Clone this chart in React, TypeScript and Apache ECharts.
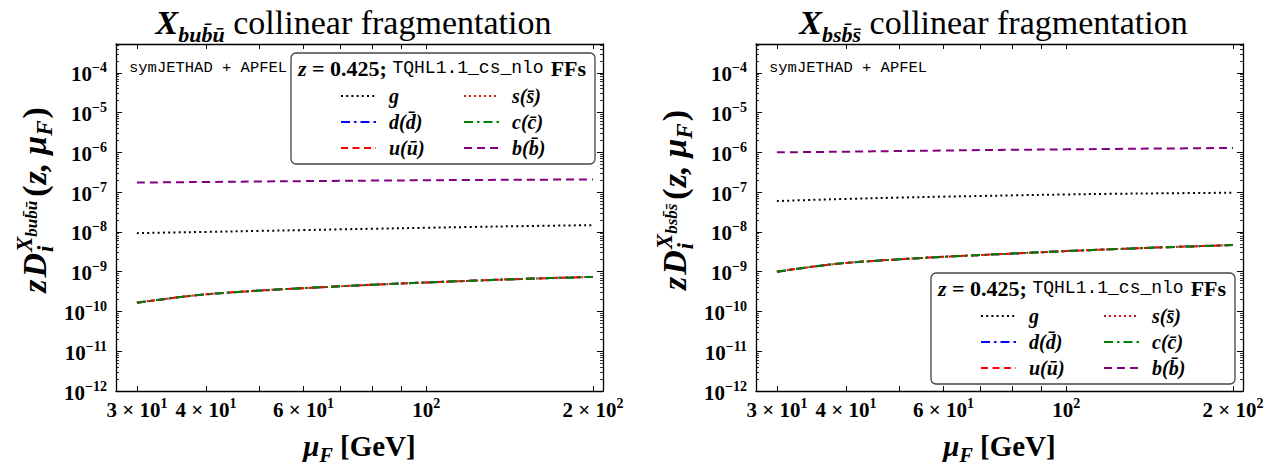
import React, { useEffect, useRef } from "react";
import * as echarts from "echarts";

// ---------------- data ----------------
const muF = [30, 35, 40, 50, 60, 70, 80, 100, 120, 150, 200];

// Left panel: X_{b u b̄ ū}
const buGluon = [9.3e-9, 9.7e-9, 1.0e-8, 1.06e-8, 1.11e-8, 1.16e-8, 1.2e-8, 1.27e-8, 1.33e-8, 1.4e-8, 1.48e-8];
const buDown = [1.66e-10, 2.2e-10, 2.7e-10, 3.35e-10, 3.85e-10, 4.3e-10, 4.7e-10, 5.35e-10, 5.9e-10, 6.6e-10, 7.4e-10];
const buUp = [1.66e-10, 2.2e-10, 2.7e-10, 3.35e-10, 3.85e-10, 4.3e-10, 4.7e-10, 5.35e-10, 5.9e-10, 6.6e-10, 7.4e-10];
const buStrange = [1.66e-10, 2.2e-10, 2.7e-10, 3.35e-10, 3.85e-10, 4.3e-10, 4.7e-10, 5.35e-10, 5.9e-10, 6.6e-10, 7.4e-10];
const buCharm = [1.66e-10, 2.2e-10, 2.7e-10, 3.35e-10, 3.85e-10, 4.3e-10, 4.7e-10, 5.35e-10, 5.9e-10, 6.6e-10, 7.4e-10];
const buBottom = [1.74e-7, 1.77e-7, 1.8e-7, 1.85e-7, 1.89e-7, 1.92e-7, 1.95e-7, 1.99e-7, 2.02e-7, 2.05e-7, 2.08e-7];

// Right panel: X_{b s b̄ s̄}
const bsGluon = [5.96e-8, 6.4e-8, 6.75e-8, 7.3e-8, 7.7e-8, 8.0e-8, 8.3e-8, 8.75e-8, 9.05e-8, 9.35e-8, 9.66e-8];
const bsDown = [1.0e-9, 1.35e-9, 1.66e-9, 2.05e-9, 2.37e-9, 2.62e-9, 2.85e-9, 3.3e-9, 3.65e-9, 4.1e-9, 4.68e-9];
const bsUp = [1.0e-9, 1.35e-9, 1.66e-9, 2.05e-9, 2.37e-9, 2.62e-9, 2.85e-9, 3.3e-9, 3.65e-9, 4.1e-9, 4.68e-9];
const bsStrange = [1.0e-9, 1.35e-9, 1.66e-9, 2.05e-9, 2.37e-9, 2.62e-9, 2.85e-9, 3.3e-9, 3.65e-9, 4.1e-9, 4.68e-9];
const bsCharm = [1.0e-9, 1.35e-9, 1.66e-9, 2.05e-9, 2.37e-9, 2.62e-9, 2.85e-9, 3.3e-9, 3.65e-9, 4.1e-9, 4.68e-9];
const bsBottom = [1.0e-6, 1.02e-6, 1.04e-6, 1.08e-6, 1.11e-6, 1.14e-6, 1.16e-6, 1.19e-6, 1.22e-6, 1.25e-6, 1.29e-6];

// axis ticks
const xTickLabels = [30, 40, 60, 100, 200];
const xTickMarks = [30, 40, 50, 60, 70, 80, 90, 100, 200];
const yTickLabels = [1e-12, 1e-11, 1e-10, 1e-9, 1e-8, 1e-7, 1e-6, 1e-5, 1e-4];

const X_MIN = 27.5;
const X_MAX = 208.5;
const Y_MIN = 1e-12;
const Y_MAX = 5.3e-4;

const yMinorTicks: number[] = [];
for (let e = -12; e <= -4; e++) {
  for (let k = 2; k <= 9; k++) {
    const v = k * Math.pow(10, e);
    if (v < Y_MAX) yMinorTicks.push(v);
  }
}

const names = {
  g: "g",
  d: "d(d\u0304)",
  u: "u(\u016B)",
  s: "s(s\u0304)",
  c: "c(c\u0304)",
  b: "b(b\u0304)",
};

const SERIF = "Liberation Serif";
const MONO = "Liberation Mono";

const lineStyles: Record<string, any> = {
  g: { color: "#000000", type: [2, 3.2], width: 2 },
  d: { color: "#0000ff", type: [9, 4, 2.5, 4], width: 2 },
  u: { color: "#ff0000", type: [7, 4.5], width: 2 },
  s: { color: "#cc1a1a", type: [2, 3], width: 2 },
  c: { color: "#008000", type: [9, 4, 2.5, 4], width: 2 },
  b: { color: "#800080", type: [8, 5], width: 2 },
};

const panels = [
  {
    left: 116,
    sub: "bub\u0304\u016B",
    data: { g: buGluon, d: buDown, u: buUp, s: buStrange, c: buCharm, b: buBottom },
    box: { x: 291, y: 53 },
  },
  {
    left: 756,
    sub: "bsb\u0304s\u0304",
    data: { g: bsGluon, d: bsDown, u: bsUp, s: bsStrange, c: bsCharm, b: bsBottom },
    box: { x: 931, y: 273 },
  },
];

const GRID_TOP = 44;
const GRID_W = 487;
const GRID_H = 349;
const BOX_W = 304;
const BOX_H = 111;

// ---------------- helpers ----------------
const minus = (n: number) => String(n).replace("-", "\u2212");

function xLabel(v: number) {
  const e = Math.floor(Math.log10(v) + 1e-9);
  const m = Math.round(v / Math.pow(10, e));
  return m === 1 ? `{n|10}{s|${e}}` : `{n|${m} \u00D7 10}{s|${e}}`;
}
function yLabel(v: number) {
  const e = Math.round(Math.log10(v));
  return `{n|10}{s|${minus(e)}}`;
}

const tickRich = {
  n: { fontFamily: SERIF, fontWeight: "bold", fontSize: 21, color: "#000", lineHeight: 24, verticalAlign: "bottom" },
  s: { fontFamily: SERIF, fontWeight: "bold", fontSize: 14, color: "#000", lineHeight: 13, verticalAlign: "top" },
};

let measureCtx: CanvasRenderingContext2D | null = null;
function measure(text: string, size: number, italic: boolean, bold: boolean) {
  if (!measureCtx) measureCtx = document.createElement("canvas").getContext("2d");
  measureCtx!.font = `${italic ? "italic " : ""}${bold ? "bold " : ""}${size}px "${SERIF}"`;
  return measureCtx!.measureText(text).width;
}

function txt(text: string, x: number, baseline: number, size: number, italic: boolean, bold = true) {
  return {
    type: "text",
    x,
    y: baseline - 0.33 * size,
    style: {
      text,
      fontFamily: SERIF,
      fontSize: size,
      fontStyle: italic ? "italic" : "normal",
      fontWeight: bold ? "bold" : "normal",
      fill: "#000",
      align: "left",
      verticalAlign: "middle",
    },
  };
}

// y-axis name: z D_i^{X_sub}(z, μ_F), rotated
function yName(cx: number, cy: number, sub: string) {
  const big = 34;
  const mid = 23;
  const small = 17;
  const parts: any[] = [];
  let x = 0;
  parts.push(txt("z", x, 0, big, true));
  x += measure("z", big, true, true) + 2;
  parts.push(txt("D", x, 0, big, true));
  x += measure("D", big, true, true);
  const x0 = x + 1;
  parts.push(txt("i", x0, 7, mid, true));
  parts.push(txt("X", x0, -14, mid, true));
  const wX = measure("X", mid, true, true);
  parts.push(txt(sub, x0 + wX, -9, small, true));
  const wSub = measure(sub, small, true, true);
  x = Math.max(x0 + measure("i", mid, true, true), x0 + wX + wSub) + 4;
  parts.push(txt("(", x, 0, big, false));
  x += measure("(", big, false, true) + 1;
  parts.push(txt("z,", x, 0, big, true));
  x += measure("z,", big, true, true) + 8;
  parts.push(txt("\u03BC", x, 0, big, true));
  x += measure("\u03BC", big, true, true);
  parts.push(txt("F", x, 6, mid, true));
  x += measure("F", mid, true, true) + 2;
  parts.push(txt(")", x, 0, big, false));
  x += measure(")", big, false, true);
  const total = x;
  parts.forEach((p) => (p.x -= total / 2));
  return { type: "group", x: cx, y: cy, rotation: Math.PI / 2, children: parts, silent: true };
}

function buildOption() {
  const grid: any[] = [];
  const xAxis: any[] = [];
  const yAxis: any[] = [];
  const series: any[] = [];
  const legend: any[] = [];
  const title: any[] = [];
  const graphic: any[] = [];

  const axisLine = { show: true, onZero: false, lineStyle: { color: "#000", width: 1.3 } };
  const tickLine = { color: "#000", width: 1 };

  panels.forEach((p, pi) => {
    grid.push({ left: p.left, top: GRID_TOP, width: GRID_W, height: GRID_H });
    const cx = p.left + GRID_W / 2;

    xAxis.push({
      type: "log",
      logBase: 10,
      gridIndex: pi,
      position: "bottom",
      min: X_MIN,
      max: X_MAX,
      axisLine,
      axisTick: { show: true, inside: true, length: 5, customValues: xTickMarks, lineStyle: tickLine },
      minorTick: { show: false },
      splitLine: { show: false },
      axisLabel: {
        show: true,
        customValues: xTickLabels,
        formatter: xLabel,
        rich: tickRich,
        margin: 5,
      },
      name: `{m|\u03BC}{f|F}{r| [GeV]}`,
      nameLocation: "middle",
      nameGap: 40,
      nameTextStyle: {
        rich: {
          m: { fontFamily: SERIF, fontStyle: "italic", fontWeight: "bold", fontSize: 29, color: "#000", lineHeight: 34, verticalAlign: "top" },
          f: { fontFamily: SERIF, fontStyle: "italic", fontWeight: "bold", fontSize: 20, color: "#000", lineHeight: 22, verticalAlign: "bottom" },
          r: { fontFamily: SERIF, fontWeight: "bold", fontSize: 29, color: "#000", lineHeight: 34, verticalAlign: "top" },
        },
      },
    });
    xAxis.push({
      type: "log",
      logBase: 10,
      gridIndex: pi,
      position: "top",
      min: X_MIN,
      max: X_MAX,
      axisLine,
      axisTick: { show: true, inside: true, length: 5, customValues: xTickMarks, lineStyle: tickLine },
      axisLabel: { show: false },
      splitLine: { show: false },
    });

    const yBase = {
      type: "log",
      logBase: 10,
      gridIndex: pi,
      min: Y_MIN,
      max: Y_MAX,
      splitLine: { show: false },
    };
    yAxis.push({
      ...yBase,
      position: "left",
      axisLine,
      axisTick: { show: true, inside: true, length: 6, customValues: yTickLabels, lineStyle: tickLine },
      axisLabel: { show: true, customValues: yTickLabels, formatter: yLabel, rich: tickRich, margin: 9 },
    });
    yAxis.push({
      ...yBase,
      position: "left",
      axisLine: { show: false },
      axisTick: { show: true, inside: true, length: 3, customValues: yMinorTicks, lineStyle: { color: "#000", width: 0.8 } },
      axisLabel: { show: false },
    });
    yAxis.push({
      ...yBase,
      position: "right",
      axisLine,
      axisTick: { show: true, inside: true, length: 6, customValues: yTickLabels, lineStyle: tickLine },
      axisLabel: { show: false },
    });
    yAxis.push({
      ...yBase,
      position: "right",
      axisLine: { show: false },
      axisTick: { show: true, inside: true, length: 3, customValues: yMinorTicks, lineStyle: { color: "#000", width: 0.8 } },
      axisLabel: { show: false },
    });

    (["b", "g", "d", "s", "u", "c"] as const).forEach((k) => {
      const arr = (p.data as any)[k] as number[];
      series.push({
        type: "line",
        name: (names as any)[k],
        xAxisIndex: pi * 2,
        yAxisIndex: pi * 4,
        data: muF.map((m, i) => [m, arr[i]]),
        symbol: "none",
        smooth: 0.35,
        silent: true,
        lineStyle: lineStyles[k],
      });
    });

    title.push({
      text: `{X|X}{s|${p.sub}}{r| collinear fragmentation}`,
      left: cx - 11,
      top: 0,
      textAlign: "center",
      textStyle: {
        rich: {
          X: { fontFamily: SERIF, fontStyle: "italic", fontWeight: "bold", fontSize: 34, color: "#000", lineHeight: 40, verticalAlign: "top" },
          s: { fontFamily: SERIF, fontStyle: "italic", fontWeight: "bold", fontSize: 22, color: "#000", lineHeight: 24, verticalAlign: "bottom" },
          r: { fontFamily: SERIF, fontWeight: "normal", fontSize: 34, color: "#000", lineHeight: 40, verticalAlign: "top" },
        },
      },
    });

    const bx = p.box.x;
    const by = p.box.y;
    graphic.push({
      type: "rect",
      shape: { x: bx, y: by, width: BOX_W, height: BOX_H, r: 5 },
      style: { fill: "#ffffff", stroke: "#444", lineWidth: 1.3 },
      z: 3,
      silent: true,
    });
    graphic.push({
      type: "text",
      x: bx + 7,
      y: by + 15,
      z: 5,
      silent: true,
      style: {
        text: "{z|z}{b| = 0.425; }{t|TQHL1.1_cs_nlo}{f|FFs}",
        verticalAlign: "middle",
        align: "left",
        rich: {
          z: { fontFamily: SERIF, fontStyle: "italic", fontWeight: "bold", fontSize: 22, fill: "#000" },
          b: { fontFamily: SERIF, fontWeight: "bold", fontSize: 22, fill: "#000" },
          f: { fontFamily: SERIF, fontWeight: "bold", fontSize: 22, fill: "#000", padding: [0, 0, 0, 7] },
          t: { fontFamily: MONO, fontSize: 18, fill: "#000" },
        },
      },
    });
    graphic.push({
      type: "text",
      x: p.left + 13,
      y: 68,
      silent: true,
      style: { text: "symJETHAD + APFEL", fontFamily: MONO, fontSize: 15.5, fill: "#000", verticalAlign: "middle", align: "left" },
    });
    graphic.push(yName(p.left - 70, 200, p.sub));

    const legendCommon = {
      orient: "vertical",
      itemWidth: 35,
      itemHeight: 14,
      itemGap: 6,
      padding: 0,
      selectedMode: false,
      z: 6,
      itemStyle: { color: "rgba(0,0,0,0)", borderWidth: 0, opacity: 0 },
      formatter: (n: string) => `{t|${n}}`,
      textStyle: {
        lineHeight: 14,
        rich: {
          t: { fontFamily: SERIF, fontStyle: "italic", fontWeight: "bold", fontSize: 20, color: "#000", lineHeight: 14, padding: [0, 0, 0, 8] },
        },
      },
    };
    legend.push({ ...legendCommon, left: bx + 49, top: by + 33, data: [names.g, names.d, names.u] });
    legend.push({ ...legendCommon, left: bx + 172, top: by + 33, data: [names.s, names.c, names.b] });
  });

  return {
    animation: false,
    backgroundColor: "#ffffff",
    title,
    grid,
    xAxis,
    yAxis,
    series,
    legend,
    graphic,
  };
}

export default function App() {
  const ref = useRef<HTMLDivElement>(null);
  useEffect(() => {
    const chart = echarts.init(ref.current!, null, { renderer: "svg" });
    chart.setOption(buildOption() as any);
    return () => chart.dispose();
  }, []);
  return (
    <div
      ref={ref}
      style={{ position: "absolute", left: 0, top: 0, width: 1287, height: 470, background: "#fff" }}
    />
  );
}
